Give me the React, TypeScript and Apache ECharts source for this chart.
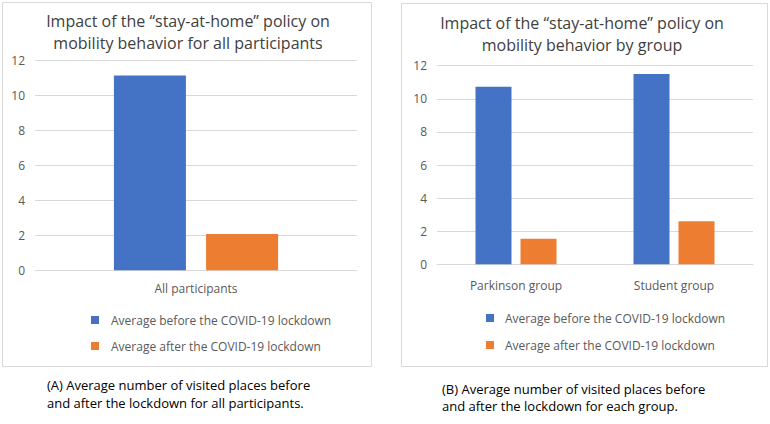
import React, { useEffect, useRef } from "react";
import * as echarts from "echarts";

const seriesNames = ["Average before the COVID-19 lockdown", "Average after the COVID-19 lockdown"];
const categoriesA = ["All participants"];
const beforeA = [11.15];
const afterA = [2.08];
const categoriesB = ["Parkinson group", "Student group"];
const beforeB = [10.73, 11.5];
const afterB = [1.55, 2.6];
const titleA = ["Impact of the “stay-at-home” policy on", "mobility behavior for all participants"];
const titleB = ["Impact of the “stay-at-home” policy on", "mobility behavior by group"];
const captionA = ["(A) Average number of visited places before", "and after the lockdown for all participants."];
const captionB = ["(B) Average number of visited places before", "and after the lockdown for each group."];

const BLUE = "#4472C4";
const ORANGE = "#ED7D31";
const GRID = "#d9d9d9";
const LABEL = "#595959";
const FONT = "'Open Sans', 'Noto Sans', sans-serif";

export default function App() {
  const ref = useRef<HTMLDivElement>(null);
  useEffect(() => {
    if (!ref.current) return;
    const chart = echarts.init(ref.current, null, { renderer: "svg" });
    const yAxisCommon = {
      type: "value",
      min: 0,
      max: 12,
      interval: 2,
      axisLine: { show: false },
      axisTick: { show: false },
      axisLabel: { color: LABEL, fontSize: 12, fontFamily: FONT, margin: 10 },
      splitLine: { lineStyle: { color: GRID, width: 1 } },
    };
    const xAxisCommon = {
      type: "category",
      axisLine: { lineStyle: { color: GRID, width: 1 } },
      axisTick: { show: false },
      axisLabel: { color: LABEL, fontSize: 12, fontFamily: FONT },
    };
    const legendCommon = {
      orient: "vertical",
      itemWidth: 8,
      itemHeight: 8,
      icon: "rect",
      selectedMode: false,
      data: seriesNames,
    };
    const textEl = (x: number, y: number, text: string, size: number, fill: string, align: string) => ({
      type: "text",
      x,
      y,
      style: { text, fill, fontSize: size, fontFamily: FONT, align, verticalAlign: "middle" },
    });
    chart.setOption({
      animation: false,
      backgroundColor: "#ffffff",
      grid: [
        { left: 35, right: 413, top: 60.7, bottom: 153.7 },
        { left: 437, right: 17, top: 65.7, bottom: 159.7 },
      ],
      xAxis: [
        { ...xAxisCommon, gridIndex: 0, data: categoriesA, axisLabel: { ...xAxisCommon.axisLabel, margin: 12 } },
        { ...xAxisCommon, gridIndex: 1, data: categoriesB, axisLabel: { ...xAxisCommon.axisLabel, margin: 15 } },
      ],
      yAxis: [
        { ...yAxisCommon, gridIndex: 0 },
        { ...yAxisCommon, gridIndex: 1 },
      ],
      legend: [
        { ...legendCommon, left: 86, top: 309, itemGap: 14, textStyle: { color: LABEL, fontSize: 12, fontFamily: FONT, padding: [0, 0, 0, 7] } },
        { ...legendCommon, left: 481, top: 307, itemGap: 15, textStyle: { color: LABEL, fontSize: 12, fontFamily: FONT, padding: [0, 0, 0, 6] } },
      ],
      series: [
        { name: seriesNames[0], type: "bar", xAxisIndex: 0, yAxisIndex: 0, data: beforeA, barWidth: 72, barGap: "28%", itemStyle: { color: BLUE } },
        { name: seriesNames[1], type: "bar", xAxisIndex: 0, yAxisIndex: 0, data: afterA, barWidth: 72, barGap: "28%", itemStyle: { color: ORANGE } },
        { name: seriesNames[0], type: "bar", xAxisIndex: 1, yAxisIndex: 1, data: beforeB, barWidth: 36, barGap: "25%", itemStyle: { color: BLUE } },
        { name: seriesNames[1], type: "bar", xAxisIndex: 1, yAxisIndex: 1, data: afterB, barWidth: 36, barGap: "25%", itemStyle: { color: ORANGE } },
      ],
      graphic: [
        { type: "rect", shape: { x: 2.5, y: 2.5, width: 369, height: 364 }, style: { fill: "none", stroke: GRID, lineWidth: 1 }, z: -1 },
        { type: "rect", shape: { x: 401.5, y: 3.5, width: 366, height: 363 }, style: { fill: "none", stroke: GRID, lineWidth: 1 }, z: -1 },
        textEl(188, 21, titleA[0], 16, "#404040", "center"),
        textEl(188, 43, titleA[1], 16, "#404040", "center"),
        textEl(582, 23, titleB[0], 16, "#404040", "center"),
        textEl(582, 45, titleB[1], 16, "#404040", "center"),
        textEl(47, 385, captionA[0], 13, "#000000", "left"),
        textEl(47, 403, captionA[1], 13, "#000000", "left"),
        textEl(442, 389, captionB[0], 13, "#000000", "left"),
        textEl(442, 406, captionB[1], 13, "#000000", "left"),
      ],
    });
    return () => chart.dispose();
  }, []);
  return <div ref={ref} style={{ position: "absolute", left: 0, top: 0, width: 770, height: 424 }} />;
}
